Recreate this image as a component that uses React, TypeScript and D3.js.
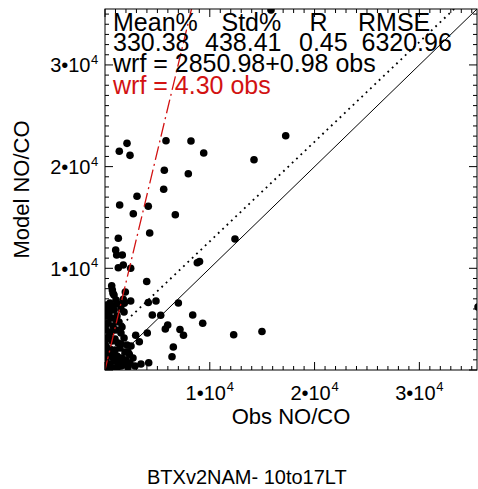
import React from "react";
import * as d3 from "d3";

// Observed NO/CO (x) and modelled NO/CO (y)
const obs = [
  2100, 1365, 2385, 5820, 8205, 9420, 5660, 7950, 5600, 3055,
  1400, 4130, 2700, 6710, 4265, 1270, 12405, 14220, 17245, 15840,
  35600, 1020, 1115, 1650, 1745, 1270, 2450, 8810, 9020, 3980,
  640, 700, 860, 1940, 7000, 4865, 4130, 2450, 1745, 8370,
  4515, 5315, 5985, 5755, 9325, 7155, 7490, 12280, 14980, 4035,
  2930, 3275, 6520, 6395, 3435, 4170, 2320, 2385, 1745,
  190, 475, 765, 1240, 285, 860, 1525, 95, 575, 1145,
  1815, 285, 765, 1335, 95, 575, 1050, 1525, 1815, 190,
  670, 1240, 2100, 95, 475, 955, 1430, 1910, 190, 670,
  1145, 1620, 95, 475, 860, 1240, 2005, 285, 765, 1145,
  1525, 50, 50, 2670, 2865, 2195, 765, 1840,
  380, 1050, 1620, 380, 955, 1525, 765, 1335, 1815, 475,
  2195, 2480, 50, 50, 50, 1050,
];
const model = [
  22290, 21510, 21110, 22550, 22520, 21340, 19640, 19300, 17770, 17080,
  16230, 16100, 15370, 15270, 13470, 12950, 12880, 20680, 23040, 35400,
  6195, 11800, 11310, 11310, 10325, 10060, 10000, 10550, 10670, 8700,
  8290, 7870, 7375, 7670, 6590, 6785, 6640, 6785, 6950, 5410,
  5410, 5380, 4425, 4030, 4590, 3985, 3410, 3470, 3785, 3640,
  3410, 2785, 2260, 1310, 590, 720, 1545, 660, 490,
  6390, 6590, 6295, 6490, 5900, 5900, 6000, 5310, 5115, 5310,
  5705, 4620, 4325, 4720, 3935, 3735, 3935, 3640, 3145, 3145,
  2850, 2655, 2460, 2360, 2065, 1965, 2165, 1770, 1475, 1280,
  1375, 1180, 785, 590, 885, 490, 985, 295, 195, 195,
  395, 1180, 1965, 1180, 395, 295, 7540, 6560,
  5605, 4915, 4230, 3345, 3050, 2555, 1770, 985, 590, 100,
  1770, 2360, 2950, 4425, 6100, 6885,
];

const majorTicks = [0, 10000, 20000, 30000];
const tickLabels = ["", "1\u202210", "2\u202210", "3\u202210"];
const statHeaders = ["Mean%", "Std%", "R", "RMSE"];
const statValues = ["330.38", "438.41", "0.45", "6320.96"];
const fitIntercept = 2850.98;
const fitSlope = 0.98;
const ratioSlope = 4.3;
const fitText = "wrf = 2850.98+0.98 obs";
const ratioText = "wrf = 4.30 obs";
const xTitle = "Obs NO/CO";
const yTitle = "Model NO/CO";
const chartTitle = "BTXv2NAM- 10to17LT";
const axisMax = 35500;

const FONT = "'Liberation Sans', Arial, Helvetica, sans-serif";
const RED = "#d21212";

export default function App() {
  const L = 105, R = 477, T = 9, B = 370;
  const x = d3.scaleLinear().domain([0, axisMax]).range([L, R]);
  const y = d3.scaleLinear().domain([0, axisMax]).range([B, T]);
  const minor = d3.range(0, axisMax + 1, 1000);
  const line = d3.line<[number, number]>().x((d) => x(d[0])).y((d) => y(d[1]));

  const oneToOne: [number, number][] = [[0, 0], [axisMax, axisMax]];
  const fitLine: [number, number][] = [[0, fitIntercept], [axisMax, fitIntercept + fitSlope * axisMax]];
  const ratioLine: [number, number][] = [[0, 0], [axisMax, ratioSlope * axisMax]];

  const headerX = [113, 221.5, 309.5, 358];
  const valueX = [113, 205, 299, 361.5];

  return (
    <svg
      width={478}
      height={489}
      style={{ position: "absolute", left: 0, top: 0, background: "#fff" }}
      fontFamily={FONT}
    >
      <defs>
        <clipPath id="plotclip">
          <rect x={L} y={T} width={R - L} height={B - T} />
        </clipPath>
      </defs>
      <rect x={0} y={0} width={478} height={489} fill="#fff" />

      <g clipPath="url(#plotclip)">
        {obs.map((o, i) => (
          <circle key={i} cx={x(o)} cy={y(model[i])} r={3.8} fill="#000" />
        ))}
        <path d={line(oneToOne) || ""} stroke="#000" strokeWidth={1} fill="none" />
        <path d={line(fitLine) || ""} stroke="#000" strokeWidth={1.8} strokeDasharray="1.8,4.2" fill="none" />
        <path d={line(ratioLine) || ""} stroke={RED} strokeWidth={1.3} strokeDasharray="14,4,2,4" fill="none" />
      </g>

      {/* frame */}
      <rect x={L} y={T} width={R - L} height={B - T} fill="none" stroke="#000" strokeWidth={1} />

      {/* minor & major ticks on all sides, inward */}
      {minor.map((v) => {
        const major = v % 10000 === 0;
        const len = major ? 8 : 4;
        return (
          <g key={"t" + v} stroke="#000" strokeWidth={1}>
            <line x1={x(v)} x2={x(v)} y1={B} y2={B - len} />
            <line x1={x(v)} x2={x(v)} y1={T} y2={T + len} />
            <line x1={L} x2={L + len} y1={y(v)} y2={y(v)} />
            <line x1={R} x2={R - len} y1={y(v)} y2={y(v)} />
          </g>
        );
      })}

      {/* tick labels */}
      {majorTicks.map((v, i) =>
        tickLabels[i] ? (
          <g key={"l" + v} fontSize={20} fill="#000">
            <text x={x(v) - 4} y={399.5} textAnchor="middle">
              {tickLabels[i]}
            </text>
            <text x={x(v) + 17} y={391} fontSize={13}>
              4
            </text>
            <text x={L - 14.5} y={y(v) + 7.3} textAnchor="end">
              {tickLabels[i]}
            </text>
            <text x={L - 14} y={y(v) - 1} fontSize={13}>
              4
            </text>
          </g>
        ) : null
      )}

      {/* axis titles */}
      <text x={(L + R) / 2} y={423.5} textAnchor="middle" fontSize={22}>
        {xTitle}
      </text>
      <text
        transform={`translate(28.5,${(T + B) / 2}) rotate(-90)`}
        textAnchor="middle"
        fontSize={22}
      >
        {yTitle}
      </text>

      {/* stats */}
      <g fontSize={25} fill="#000">
        {statHeaders.map((h, i) => (
          <text key={h} x={headerX[i]} y={30.5}>
            {h}
          </text>
        ))}
        {statValues.map((s, i) => (
          <text key={s} x={valueX[i]} y={51}>
            {s}
          </text>
        ))}
        <text x={113} y={71.5}>
          {fitText}
        </text>
        <text x={113} y={93.5} fill={RED}>
          {ratioText}
        </text>
      </g>

      <text x={147} y={484} fontSize={20}>
        {chartTitle}
      </text>
    </svg>
  );
}
